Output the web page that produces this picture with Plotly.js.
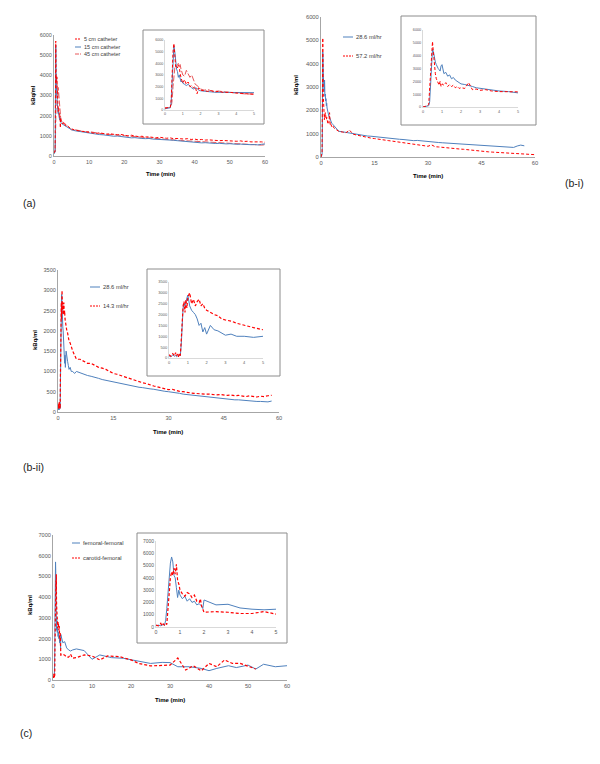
<!DOCTYPE html>
<html><head><meta charset="utf-8">
<script src="https://cdn.plot.ly/plotly-3.0.1.min.js"></script>
<style>html,body{margin:0;padding:0;background:#fff}#chart{width:600px;height:764px}</style>
</head><body><div id="chart"></div>
<script>
// ---------- DATA ----------
// shared time grid (min) for panels (a), (b-i), (b-ii)
const timeGrid = [0,0.1,0.2,0.3,0.35,0.4,0.45,0.5,0.55,0.6,0.65,0.7,0.75,0.8,0.85,0.9,0.95,1,1.1,1.2,1.3,1.4,1.5,1.6,1.7,1.8,1.9,2,2.2,2.4,2.6,2.8,3,3.3,3.6,4,4.5,5,
  6,7,8,9,10,11,12,13,14,15,16,17,18,19,20,21,22,23,24,25,26,27,28,29,30,31,32,33,34,35,36,37,38,39,40,41,42,43,44,45,46,47,48,49,50,51,52,53,54,55,56,57,58,59,60];

// (a) catheter length
const catheterNames = ['5 cm catheter','15 cm catheter','45 cm catheter'];
const a5cm = [150,180,200,250,900,3200,5000,5700,4600,3700,3800,3600,3900,3700,3100,2700,2500,2300,2600,2200,2400,2000,2100,1900,2000,1400,1900,1700,1650,1600,1650,1550,1600,1500,1520,1450,1400,1350,
  1280,1250,1230,1200,1180,1150,1120,1150,1100,1080,1100,1060,1050,1070,1020,1000,1030,990,960,980,940,950,920,900,930,890,880,900,860,870,850,840,860,820,840,800,820,790,800,780,790,760,770,750,760,740,730,750,720,730,700,710,690,700,680];
const a15cm = [100,120,150,200,700,2800,4800,5500,5000,4000,3500,3300,2800,3000,2600,2400,2500,2300,2200,2100,2200,2000,1900,1800,1900,1850,1700,1650,1600,1580,1550,1520,1500,1480,1460,1400,1350,1300,
  1250,1220,1200,1150,1120,1100,1080,1060,1050,1020,1000,980,990,960,940,930,900,910,880,870,860,870,840,830,850,820,800,790,780,760,740,730,710,700,680,670,650,660,640,630,620,630,610,600,610,590,580,590,570,580,560,570,550,580,600];
const a45cm = [200,180,220,200,300,800,2000,3000,3600,3800,3700,3900,4000,3800,3900,3500,3300,3000,2900,3400,3100,2800,3000,2500,2200,2100,1900,1800,1700,1750,1650,1600,1620,1550,1520,1450,1380,1300,
  1300,1260,1240,1200,1210,1170,1140,1120,1100,1090,1070,1060,1040,1020,1010,990,970,960,940,930,910,900,880,870,850,840,820,810,800,780,770,760,740,730,720,700,690,680,670,660,650,640,620,610,600,590,580,570,560,550,540,530,520,540,560];

// (b-i) infusion rate
const bi_names = ['28.6 ml/hr','57.2 ml/hr'];
const bi_286 = [0,50,60,100,400,2000,3800,4500,4300,3800,3500,3300,3100,3000,2900,2800,3200,3300,2600,2700,2400,2500,2200,2300,2100,2000,1900,1800,1750,1700,1600,1500,1450,1400,1350,1250,1200,1100,
  1080,1050,1020,1000,980,950,930,900,890,870,850,840,820,800,790,780,760,750,730,720,700,710,690,670,650,640,640,620,610,600,590,580,570,560,550,540,530,510,490,470,470,460,460,450,440,440,430,420,410,470,510,480,null,null,null];
const bi_572 = [0,40,80,200,1500,3500,4800,5100,4200,3200,2600,2200,2000,1800,1700,2000,1600,1800,1700,1900,1600,1750,1600,1700,1500,1600,1450,1500,1450,1900,1350,1400,1300,1350,1250,1200,1150,1100,
  1070,1040,1150,980,940,900,870,840,810,790,760,740,720,700,680,660,640,620,600,590,550,530,510,490,460,520,440,430,410,400,380,370,350,340,330,310,300,280,260,240,230,220,210,200,190,180,170,160,150,140,140,130,120,110,100];

// (b-ii) infusion rate
const bii_names = ['28.6 ml/hr','14.3 ml/hr'];
const bii_286 = [100,50,150,80,120,60,100,80,150,100,600,1500,2300,2500,2400,2600,2800,2900,2400,2200,2100,2000,1800,1500,1600,1200,1400,1100,1500,1300,1250,1150,1050,1100,1000,1000,950,1000,
  960,930,900,880,860,830,800,780,770,740,720,700,680,660,640,630,610,600,580,570,560,540,530,510,500,490,470,460,440,430,420,410,400,390,370,360,350,340,330,330,320,310,300,300,290,280,280,270,260,260,250,250,270,null,null];
const bii_143 = [150,80,200,100,250,100,180,60,200,100,800,1800,2400,2600,2100,2700,2300,2800,3000,2500,2700,2400,2600,2700,2400,2500,2300,2200,2100,2000,1950,1800,1750,1700,1600,1500,1400,1300,
  1300,1250,1200,1200,1150,1100,1080,1050,1000,950,930,900,860,830,800,770,750,720,700,660,640,620,600,580,550,560,530,510,500,480,470,460,450,450,440,440,430,420,430,420,410,420,400,410,390,380,400,380,370,390,380,400,410,null,null];

// (c) injection site
const c_names = ['femoral-femoral','carotid-femoral'];
const c_timeFF = [0,0.1,0.2,0.3,0.35,0.4,0.45,0.5,0.55,0.6,0.65,0.7,0.75,0.8,0.85,0.9,0.95,1,1.1,1.2,1.3,1.4,1.5,1.6,1.7,1.8,1.9,1.95,2,2.5,3,3.5,4,4.5,5,
  6,8,10,12,15,18,20,22,25,28,30,32,35,38,40,42,45,47,50,52,54,57,60];
const c_FF = [100,150,100,200,150,500,1500,3000,4000,5200,5700,5300,4200,4000,3200,2400,3000,2600,2300,2500,2100,2300,2000,2100,1800,1900,1700,1500,2200,1800,1850,1550,1450,1400,1450,
  1500,1420,1000,1210,1080,1050,970,900,800,850,840,640,640,560,450,560,690,600,720,530,760,640,690];
const c_timeCF = [0,0.1,0.2,0.25,0.3,0.35,0.4,0.45,0.5,0.55,0.6,0.65,0.7,0.75,0.8,0.85,0.9,0.95,1,1.1,1.2,1.3,1.4,1.5,1.6,1.7,1.8,1.85,1.9,2,2.5,3,3.5,4,4.5,5,
  6,8,10,12,14,17,20,22,25,28,30,32,34,36,38,40,42,44,46,48,50,52];
const c_CF = [150,100,300,100,250,150,300,200,1500,3000,4000,4500,4200,4800,4300,5100,3800,3500,3000,2700,2500,2800,2700,2400,2600,2100,2000,2300,1700,1200,1250,1200,1100,1100,1250,1050,
  1080,1210,1160,970,1160,1130,970,800,680,690,720,1060,480,690,440,800,640,970,800,800,680,530];

// axis ticks
const yTicks6000 = [0,1000,2000,3000,4000,5000,6000];
const yTicks3500 = [0,500,1000,1500,2000,2500,3000,3500];
const yTicks7000 = [0,1000,2000,3000,4000,5000,6000,7000];
const xTicks10 = [0,10,20,30,40,50,60];
const xTicks15 = [0,15,30,45,60];
const xTicksInset = [0,1,2,3,4,5];

// ---------- STYLE / LAYOUT ----------
const W=600,H=764;
const px=x=>x/W, py=y=>1-y/H;
const BLUE='#4F81BD', RED='#FF0000', RED2='#E8585A';
const FONT='"Liberation Sans", Arial, sans-serif';

function ax(dom, range, tickvals, size, anchor, lc){
  return {domain:dom, range:range, tickvals:tickvals, ticktext:tickvals.map(String), anchor:anchor,
    showgrid:false, zeroline:false, showline:true, linecolor:lc||'#A6A6A6', linewidth:1,
    ticks:'', ticklen:0, tickfont:{family:FONT,size:size,color:'#595959'}, fixedrange:true};
}
const traces=[];
function add(x,y,xa,ya,color,dash,w){
  traces.push({type:'scatter',mode:'lines',x:x,y:y,xaxis:xa,yaxis:ya,showlegend:false,
    line:{color:color,width:w||1,dash:dash||'solid'},hoverinfo:'skip'});
}
// panel a
[['x','y'],['x2','y2']].forEach(([xa,ya])=>{
  add(timeGrid,a45cm,xa,ya,RED2,'6px,2px');
  add(timeGrid,a15cm,xa,ya,BLUE,'solid');
  add(timeGrid,a5cm,xa,ya,RED,'3px,2px');
});
// panel b-i
[['x3','y3'],['x4','y4']].forEach(([xa,ya])=>{
  add(timeGrid,bi_286,xa,ya,BLUE,'solid');
  add(timeGrid,bi_572,xa,ya,RED,'3px,2px');
});
// panel b-ii
[['x5','y5'],['x6','y6']].forEach(([xa,ya])=>{
  add(timeGrid,bii_286,xa,ya,BLUE,'solid');
  add(timeGrid,bii_143,xa,ya,RED,'3px,2px',1.2);
});
// panel c
[['x7','y7'],['x8','y8']].forEach(([xa,ya])=>{
  add(c_timeFF,c_FF,xa,ya,BLUE,'solid');
  add(c_timeCF,c_CF,xa,ya,RED,'3px,2px',1.2);
});

const layout={
  width:W,height:H,margin:{l:0,r:0,t:0,b:0},paper_bgcolor:'#fff',plot_bgcolor:'rgba(0,0,0,0)',
  showlegend:false,font:{family:FONT},
  // (a)
  xaxis: ax([px(54),px(265)],[0,60],xTicks10,5.5,'y'),
  yaxis: ax([py(156),py(35)],[0,6000],yTicks6000,5.5,'x'),
  xaxis2: ax([px(165),px(254)],[0,5],xTicksInset,3.6,'y2','#D9D9D9'),
  yaxis2: ax([py(110),py(40)],[0,6000],yTicks6000,3.6,'x2','#D9D9D9'),
  // (b-i)
  xaxis3: ax([px(321),px(535)],[0,60],xTicks15,5.8,'y3'),
  yaxis3: ax([py(157),py(17)],[0,6000],yTicks6000,5.8,'x3'),
  xaxis4: ax([px(423),px(518)],[0,5],xTicksInset,3.8,'y4','#D9D9D9'),
  yaxis4: ax([py(107),py(30)],[0,6000],yTicks6000,3.8,'x4','#D9D9D9'),
  // (b-ii)
  xaxis5: ax([px(58),px(279)],[0,60],xTicks15,5.6,'y5'),
  yaxis5: ax([py(412),py(270)],[0,3500],yTicks3500,5.6,'x5'),
  xaxis6: ax([px(169),px(263)],[0,5],xTicksInset,4,'y6','#D9D9D9'),
  yaxis6: ax([py(358),py(282)],[0,3500],yTicks3500,4,'x6','#D9D9D9'),
  // (c)
  xaxis7: ax([px(53),px(287)],[0,60],xTicks10,5.6,'y7'),
  yaxis7: ax([py(680),py(535)],[0,7000],yTicks7000,5.6,'x7'),
  xaxis8: ax([px(156),px(276)],[0,5],xTicksInset,5.2,'y8','#D9D9D9'),
  yaxis8: ax([py(627),py(541)],[0,7000],yTicks7000,5,'x8','#D9D9D9'),
  shapes:[], annotations:[]
};
function box(x0,y0,x1,y1){layout.shapes.push({type:'rect',xref:'paper',yref:'paper',x0:px(x0),x1:px(x1),y0:py(y1),y1:py(y0),line:{color:'#8C8C8C',width:1},layer:'above'});}
box(143,30,264,124); box(401,16,536,125); box(147,269,280,376); box(137,533,287,643);
function ann(text,x,y,size,opts){layout.annotations.push(Object.assign({text:text,xref:'paper',yref:'paper',x:px(x),y:py(y),showarrow:false,font:{family:FONT,size:size,color:'#000'},xanchor:'center',yanchor:'middle'},opts||{}));}
function legendItem(text,x0,x1,y,color,dash,size){
  layout.shapes.push({type:'line',xref:'paper',yref:'paper',x0:px(x0),x1:px(x1),y0:py(y),y1:py(y),line:{color:color,width:1,dash:dash}});
  ann(text,x1+1,y,size,{xanchor:'left',font:{family:FONT,size:size,color:'#404040'}});
}
// axis titles
const bold=t=>'<b>'+t+'</b>';
ann(bold('Time (min)'),160,174,5.8); ann(bold('kBq/ml'),33,95,5.8,{textangle:-90});
ann(bold('Time (min)'),428,176,6); ann(bold('kBq/ml'),296,85,6,{textangle:-90});
ann(bold('Time (min)'),168,432,6); ann(bold('kBq/ml'),35,340,6,{textangle:-90});
ann(bold('Time (min)'),170,700,6); ann(bold('kBq/ml'),30,605,6,{textangle:-90});
// panel labels
ann('(a)',29,203,10.5,{font:{family:FONT,size:10.5,color:'#222'}});
ann('(b-i)',574,183,10.5,{font:{family:FONT,size:10.5,color:'#222'}});
ann('(b-ii)',33,467,10.5,{font:{family:FONT,size:10.5,color:'#222'}});
ann('(c)',26,733,10.5,{font:{family:FONT,size:10.5,color:'#222'}});
// legends
legendItem(catheterNames[0],75,81,39,RED,'2px,1px',5.5);
legendItem(catheterNames[1],75,81,47,BLUE,'solid',5.5);
legendItem(catheterNames[2],75,81,54,RED2,'4px,1px',5.5);
legendItem(bi_names[0],343,353,37,BLUE,'solid',5.8);
legendItem(bi_names[1],343,353,56,RED,'2px,1px',5.8);
legendItem(bii_names[0],90,100,287,BLUE,'solid',5.8);
legendItem(bii_names[1],90,100,306,RED,'2px,1px',5.8);
legendItem(c_names[0],72,80,543,BLUE,'solid',5.8);
legendItem(c_names[1],72,80,558,RED,'2px,1px',5.8);

Plotly.newPlot('chart',traces,layout,{staticPlot:true,displayModeBar:false});
</script></body></html>
